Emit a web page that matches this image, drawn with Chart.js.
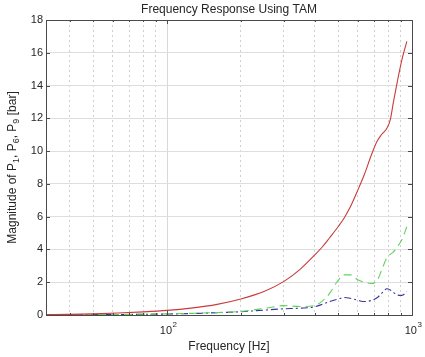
<!DOCTYPE html>
<html><head><meta charset="utf-8">
<script src="https://cdn.jsdelivr.net/npm/chart.js@4/dist/chart.umd.min.js"></script>
<style>html,body{margin:0;padding:0;background:#fff;}canvas{display:block;}</style>
</head><body>
<canvas id="c" width="425" height="357"></canvas>
<script>
// ---- data ----
const frequency = [32,40,50,63,80,100,125,160,200,250,300,350,400,430,460,500,530,560,600,640,680,720,750,790,815,840,870,910,953];
const p1 = [0.02,0.04,0.07,0.12,0.19,0.28,0.42,0.65,0.98,1.45,2.05,2.8,3.65,4.15,4.7,5.4,5.95,6.6,7.6,8.6,9.7,10.6,11.0,11.4,11.9,13.0,14.2,15.6,16.7];
const p6 = [0,0.01,0.02,0.03,0.05,0.07,0.1,0.15,0.22,0.4,0.57,0.52,0.58,0.85,1.3,2.13,2.45,2.45,2.15,2.0,1.92,2.1,2.7,3.5,3.7,3.85,4.15,4.6,5.4];
const p9 = [0,0.01,0.02,0.03,0.04,0.06,0.09,0.14,0.2,0.3,0.38,0.42,0.5,0.65,0.82,0.98,1.07,1.02,0.9,0.82,0.88,1.05,1.3,1.6,1.52,1.38,1.22,1.2,1.42];
const xGridTicks = [40,50,60,70,80,90,100,200,300,400,500,600,700,800,900,1000];
const xTickLabels = [[100,'10','2'],[1000,'10','3']];
const yTicks = [0,2,4,6,8,10,12,14,16,18];
const titleText = 'Frequency Response Using TAM';
const xTitle = 'Frequency [Hz]';
const yTitleParts = [['Magnitude of P',0],['1',1],[', P',0],['6',1],[', P',0],['9',1],[' [bar]',0]];

const FONT = '"Liberation Sans", Arial, sans-serif';
const AXIS = '#4a4a4a';
const TXT = '#262626';
const isMajor = v => Math.abs(Math.log10(v) - Math.round(Math.log10(v))) < 1e-9;

const pts = arr => frequency.map((f,i)=>({x:f,y:arr[i]}));

const decor = {
  id:'decor',
  afterDraw(chart){
    const {ctx, chartArea:a, scales} = chart;
    ctx.save();
    // box
    ctx.strokeStyle = AXIS; ctx.lineWidth = 1; ctx.setLineDash([]);
    ctx.strokeRect(Math.round(a.left)+0.5, Math.round(a.top)+0.5, Math.round(a.right-a.left), Math.round(a.bottom-a.top));
    // inward ticks
    ctx.beginPath();
    yTicks.forEach(v=>{
      const y = Math.round(scales.y.getPixelForValue(v))+0.5;
      ctx.moveTo(a.left, y); ctx.lineTo(a.left+4, y);
      ctx.moveTo(a.right, y); ctx.lineTo(a.right-4, y);
    });
    xGridTicks.forEach(v=>{
      const x = Math.round(scales.x.getPixelForValue(v))+0.5;
      const L = isMajor(v) ? 4 : 2;
      ctx.moveTo(x, a.bottom); ctx.lineTo(x, a.bottom-L);
      ctx.moveTo(x, a.top); ctx.lineTo(x, a.top+L);
    });
    ctx.stroke();
    // x tick labels with superscript exponents
    ctx.fillStyle = TXT;
    ctx.textBaseline = 'alphabetic'; ctx.textAlign = 'left';
    xTickLabels.forEach(([v, base, ex])=>{
      const px = scales.x.getPixelForValue(v);
      ctx.font = '11px ' + FONT; const wb = ctx.measureText(base).width;
      ctx.font = '8px ' + FONT; const we = ctx.measureText(ex).width;
      const x0 = px - (wb+we)/2 + 1;
      ctx.font = '11px ' + FONT; ctx.fillText(base, x0, a.bottom + 19);
      ctx.font = '8px ' + FONT; ctx.fillText(ex, x0 + wb + 0.5, a.bottom + 12);
    });
    // titles
    ctx.textAlign = 'center'; ctx.textBaseline = 'middle';
    ctx.font = '12px ' + FONT;
    ctx.fillText(titleText, (a.left+a.right)/2, 10);
    ctx.fillText(xTitle, (a.left+a.right)/2, 347);
    // y title with subscripts
    const big = '12px ' + FONT, small = '9px ' + FONT;
    let total = 0;
    yTitleParts.forEach(([t,s])=>{ ctx.font = s?small:big; total += ctx.measureText(t).width; });
    ctx.translate(13, (a.top+a.bottom)/2);
    ctx.rotate(-Math.PI/2);
    ctx.textAlign = 'left';
    let x = -total/2;
    yTitleParts.forEach(([t,s])=>{
      ctx.font = s?small:big;
      ctx.fillText(t, x, s?4:0);
      x += ctx.measureText(t).width;
    });
    ctx.restore();
  }
};

new Chart(document.getElementById('c'), {
  type:'line',
  data:{ datasets:[
    {label:'P1', data:pts(p1), borderColor:'#c83c3c', borderWidth:1.1, cubicInterpolationMode:'monotone', pointRadius:0, fill:false},
    {label:'P6', data:pts(p6), borderColor:'#5ed35e', borderWidth:1.1, borderDash:[8,5], cubicInterpolationMode:'monotone', pointRadius:0, fill:false},
    {label:'P9', data:pts(p9), borderColor:'#36369a', borderWidth:1.1, borderDash:[7,3,2,3], cubicInterpolationMode:'monotone', pointRadius:0, fill:false}
  ]},
  options:{
    responsive:false, animation:false, devicePixelRatio:1,
    layout:{padding:{top:20,right:13,left:0,bottom:0}},
    plugins:{legend:{display:false}, tooltip:{enabled:false}, title:{display:false}},
    scales:{
      x:{
        type:'logarithmic', min:32, max:1000,
        afterBuildTicks: s => { s.ticks = xGridTicks.map(v=>({value:v, major:isMajor(v)})); },
        afterFit: s => { s.height = 42; },
        grid:{drawTicks:false, lineWidth:1,
          color: c => (c.tick && isMajor(c.tick.value)) ? '#d8d8d8' : '#cfcfcf'},
        border:{display:false, dash: c => (c.tick && !isMajor(c.tick.value)) ? [2,3] : []},
        ticks:{autoSkip:false, maxRotation:0, padding:8, color:TXT, font:{family:FONT, size:11},
          callback: () => ''}
      },
      y:{
        min:0, max:18,
        afterBuildTicks: s => { s.ticks = yTicks.map(v=>({value:v})); },
        afterFit: s => { s.width = 46; },
        grid:{drawTicks:false, color:'#dedede', lineWidth:1},
        border:{display:false},
        ticks:{padding:3, color:TXT, font:{family:FONT, size:11}}
      }
    }
  },
  plugins:[decor]
});
</script>
</body></html>
